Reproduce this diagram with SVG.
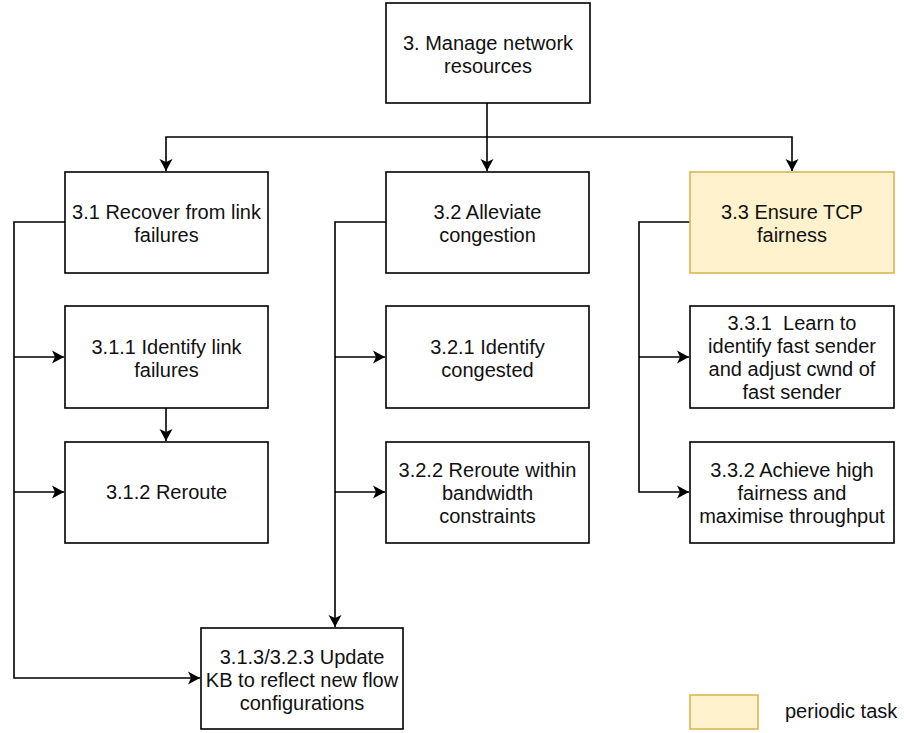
<svg xmlns="http://www.w3.org/2000/svg" width="904" height="733" viewBox="0 0 904 733">
  <style>
    .box { fill: #ffffff; stroke: #000000; stroke-width: 1.6; }
    .periodic { fill: #fff2cc; stroke: #d6b656; stroke-width: 1.6; }
    .label { font-family: "Liberation Sans", Arial, Helvetica, sans-serif; font-size: 20px; fill: #111111; text-anchor: middle; white-space: pre; }
    .legend { font-family: "Liberation Sans", Arial, Helvetica, sans-serif; font-size: 20px; fill: #111111; }
    .edge { fill: none; stroke: #000000; stroke-width: 1.6; }
  </style>
  <defs>
    <marker id="arrow" viewBox="-13 -7 14 14" refX="0" refY="0" markerWidth="14" markerHeight="14" markerUnits="userSpaceOnUse" orient="auto">
      <path d="M0,0 L-12,-6.5 L-9,0 L-12,6.5 Z" fill="#000000"/>
    </marker>
  </defs>
  <rect width="904" height="733" fill="#ffffff"/>

  <!-- connectors -->
  <g id="connectors">
    <!-- root fan-out -->
    <path class="edge" d="M487,103 V171" marker-end="url(#arrow)"/>
    <path class="edge" d="M487,137 H166 V171" marker-end="url(#arrow)"/>
    <path class="edge" d="M487,137 H792 V171" marker-end="url(#arrow)"/>
    <!-- 3.1 branch -->
    <path class="edge" d="M65,222 H14 V678 H200" marker-end="url(#arrow)"/>
    <path class="edge" d="M14,357 H64" marker-end="url(#arrow)"/>
    <path class="edge" d="M14,492 H64" marker-end="url(#arrow)"/>
    <path class="edge" d="M166,408 V441" marker-end="url(#arrow)"/>
    <!-- 3.2 branch -->
    <path class="edge" d="M386,222 H335 V627" marker-end="url(#arrow)"/>
    <path class="edge" d="M335,357 H385" marker-end="url(#arrow)"/>
    <path class="edge" d="M335,492 H385" marker-end="url(#arrow)"/>
    <!-- 3.3 branch -->
    <path class="edge" d="M690,222 H639 V492 H689" marker-end="url(#arrow)"/>
    <path class="edge" d="M639,357 H689" marker-end="url(#arrow)"/>
  </g>

  <g id="n3">
    <rect class="box" x="386" y="3" width="204" height="100"/>
    <text class="label" x="488" y="50">3. Manage network<tspan x="488" dy="23">resources</tspan></text>
  </g>

  <g id="n3-1">
    <rect class="box" x="65" y="172" width="203" height="101"/>
    <text class="label" x="166.5" y="219">3.1 Recover from link<tspan x="166.5" dy="23">failures</tspan></text>
  </g>
  <g id="n3-2">
    <rect class="box" x="386" y="172" width="203" height="101"/>
    <text class="label" x="487.5" y="219">3.2 Alleviate<tspan x="487.5" dy="23">congestion</tspan></text>
  </g>
  <g id="n3-3">
    <rect class="periodic" x="690" y="172" width="204" height="101"/>
    <text class="label" x="792" y="219">3.3 Ensure TCP<tspan x="792" dy="23">fairness</tspan></text>
  </g>

  <g id="n3-1-1">
    <rect class="box" x="65" y="306" width="203" height="102"/>
    <text class="label" x="166.5" y="354">3.1.1 Identify link<tspan x="166.5" dy="23">failures</tspan></text>
  </g>
  <g id="n3-2-1">
    <rect class="box" x="386" y="306" width="203" height="102"/>
    <text class="label" x="487.5" y="354">3.2.1 Identify<tspan x="487.5" dy="23">congested</tspan></text>
  </g>
  <g id="n3-3-1">
    <rect class="box" x="690" y="306" width="204" height="102"/>
    <text class="label" x="792" y="330" xml:space="preserve">3.3.1  Learn to<tspan x="792" dy="23">identify fast sender</tspan><tspan x="792" dy="23">and adjust cwnd of</tspan><tspan x="792" dy="23">fast sender</tspan></text>
  </g>

  <g id="n3-1-2">
    <rect class="box" x="65" y="442" width="203" height="101"/>
    <text class="label" x="166.5" y="499">3.1.2 Reroute</text>
  </g>
  <g id="n3-2-2">
    <rect class="box" x="386" y="442" width="203" height="101"/>
    <text class="label" x="487.5" y="477">3.2.2 Reroute within<tspan x="487.5" dy="23">bandwidth</tspan><tspan x="487.5" dy="23">constraints</tspan></text>
  </g>
  <g id="n3-3-2">
    <rect class="box" x="690" y="442" width="204" height="101"/>
    <text class="label" x="792" y="477">3.3.2 Achieve high<tspan x="792" dy="23">fairness and</tspan><tspan x="792" dy="23">maximise throughput</tspan></text>
  </g>

  <g id="n3-1-3">
    <rect class="box" x="201" y="628" width="202" height="101"/>
    <text class="label" x="302" y="664">3.1.3/3.2.3 Update<tspan x="302" dy="23">KB to reflect new flow</tspan><tspan x="302" dy="23">configurations</tspan></text>
  </g>

  <g id="legend">
    <rect class="periodic" x="690" y="695" width="68" height="34"/>
    <text class="legend" x="785" y="718">periodic task</text>
  </g>
</svg>
